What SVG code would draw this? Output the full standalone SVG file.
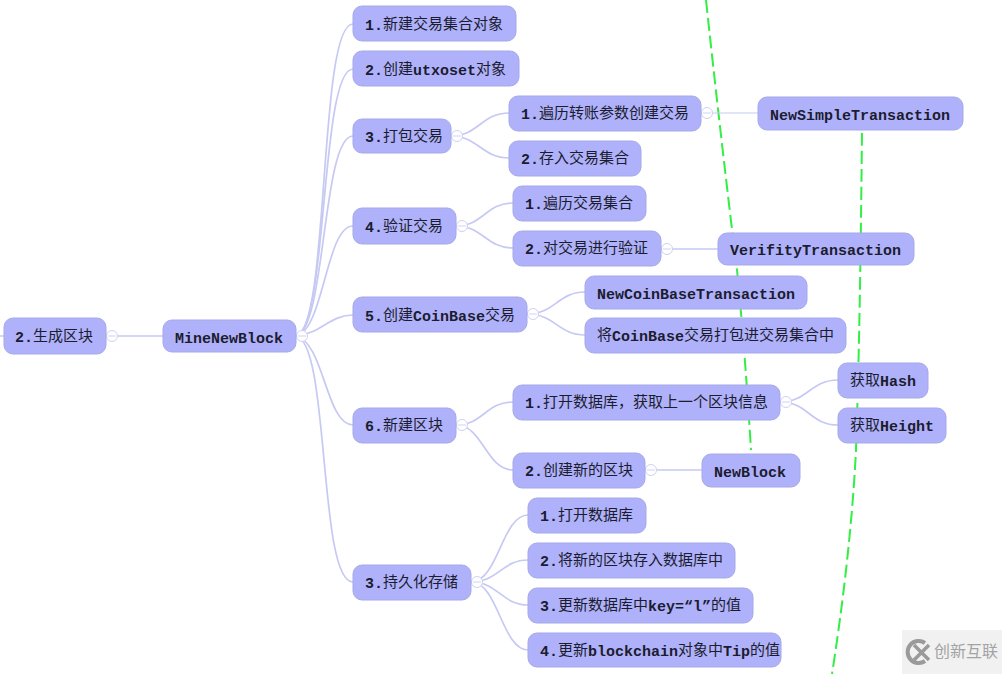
<svg xmlns="http://www.w3.org/2000/svg" width="1002" height="674" viewBox="0 0 1002 674">
<style>
.n rect{fill:#afb2fa;stroke:#a6a9e8;stroke-width:1}
.n text{font-family:"Liberation Mono","Noto Sans CJK SC",monospace;font-size:15px;font-weight:400;fill:#1c1c30;dominant-baseline:central;transform:translateY(1.5px)}
.n tspan{font-weight:700}
#connectors path{fill:none;stroke:#c6c9f3;stroke-width:1.7}
#connectors circle{fill:#fff;stroke:#cfd1f3;stroke-width:1}
#connectors path.m{stroke:#cfd1f3;stroke-width:1}
.g{fill:none;stroke:#33ee44;stroke-width:2;stroke-dasharray:13 5}
</style>
<rect width="1002" height="674" fill="#fff"/>
<g id="dashes">
<path class="g" d="M706 0C714 75 727 190 737 270C743 330 748 400 751 450"/>
<path class="g" d="M862 133C861 220 860 330 856 450C852 530 842 610 832 674"/>
</g>
<g id="connectors">
<path d="M0 336H4M106 336H163"/>
<path d="M296 336C330 330 318 24 353 24"/>
<path d="M296 336C328 330 320 69 353 69"/>
<path d="M296 336C326 330 322 136 353 136"/>
<path d="M296 336C324 330 326 226 353 226"/>
<path d="M296 336C320 334 330 315 353 315"/>
<path d="M296 336C324 342 326 425 353 425"/>
<path d="M296 336C330 342 318 582 353 582"/>
<path d="M451 136C478 136 482 113 509 113"/>
<path d="M451 136C478 136 482 158 509 158"/>
<path d="M701 113H758" style="stroke-width:1.2"/>
<path d="M456 226C483 226 486 203 513 203"/>
<path d="M456 226C483 226 486 248 513 248"/>
<path d="M661 249H718"/>
<path d="M527 314C555 314 558 292 585 292"/>
<path d="M527 314C555 314 558 335 585 335"/>
<path d="M456 425C483 425 486 402 513 402"/>
<path d="M456 425C483 425 486 470 513 470"/>
<path d="M645 470H702"/>
<path d="M780 402C808 402 810 380 838 380"/>
<path d="M780 402C808 402 810 425 838 425"/>
<path d="M471 582C498 582 502 515 528 515"/>
<path d="M471 582C498 582 502 560 528 560"/>
<path d="M471 582C498 582 502 605 528 605"/>
<path d="M471 582C498 582 502 650 528 650"/>
<circle cx="112" cy="336" r="5.5"/>
<circle cx="302" cy="336" r="5.5"/>
<circle cx="457" cy="136" r="5.5"/>
<circle cx="707" cy="113" r="5.5"/>
<circle cx="462" cy="226" r="5.5"/>
<circle cx="667" cy="249" r="5.5"/>
<circle cx="533" cy="314" r="5.5"/>
<circle cx="462" cy="425" r="5.5"/>
<circle cx="786" cy="402" r="5.5"/>
<circle cx="651" cy="470" r="5.5"/>
<circle cx="477" cy="582" r="5.5"/>
<path class="m" d="M108 336h8M298 336h8M453 136h8M703 113h8M458 226h8M663 249h8M529 314h8M458 425h8M782 402h8M647 470h8M473 582h8"/>
</g>
<g id="n0" class="n"><rect x="4" y="318" width="102" height="36" rx="9"/><text x="15" y="336"><tspan>2.</tspan>生成区块</text></g>
<g id="n1" class="n"><rect x="163" y="320" width="133" height="32" rx="9"/><text x="175" y="337"><tspan>MineNewBlock</tspan></text></g>
<g id="n2" class="n"><rect x="353" y="6" width="163" height="35" rx="9"/><text x="365" y="24"><tspan>1.</tspan>新建交易集合对象</text></g>
<g id="n3" class="n"><rect x="353" y="51" width="166" height="35" rx="9"/><text x="365" y="69"><tspan>2.</tspan>创建<tspan>utxoset</tspan>对象</text></g>
<g id="n4" class="n"><rect x="353" y="119" width="98" height="34" rx="9"/><text x="365" y="136"><tspan>3.</tspan>打包交易</text></g>
<g id="n5" class="n"><rect x="353" y="208" width="103" height="36" rx="9"/><text x="365" y="226"><tspan>4.</tspan>验证交易</text></g>
<g id="n6" class="n"><rect x="353" y="297" width="174" height="35" rx="9"/><text x="365" y="315"><tspan>5.</tspan>创建<tspan>CoinBase</tspan>交易</text></g>
<g id="n7" class="n"><rect x="353" y="408" width="103" height="35" rx="9"/><text x="365" y="425"><tspan>6.</tspan>新建区块</text></g>
<g id="n8" class="n"><rect x="353" y="565" width="118" height="35" rx="9"/><text x="365" y="582"><tspan>3.</tspan>持久化存储</text></g>
<g id="n9" class="n"><rect x="509" y="96" width="192" height="35" rx="9"/><text x="521" y="113"><tspan>1.</tspan>遍历转账参数创建交易</text></g>
<g id="n10" class="n"><rect x="509" y="141" width="132" height="35" rx="9"/><text x="521" y="158"><tspan>2.</tspan>存入交易集合</text></g>
<g id="n11" class="n"><rect x="758" y="97" width="205" height="33" rx="9"/><text x="770" y="114"><tspan>NewSimpleTransaction</tspan></text></g>
<g id="n12" class="n"><rect x="513" y="186" width="133" height="35" rx="9"/><text x="525" y="203"><tspan>1.</tspan>遍历交易集合</text></g>
<g id="n13" class="n"><rect x="513" y="231" width="148" height="35" rx="9"/><text x="525" y="248"><tspan>2.</tspan>对交易进行验证</text></g>
<g id="n14" class="n"><rect x="718" y="233" width="196" height="32" rx="9"/><text x="730" y="249"><tspan>VerifityTransaction</tspan></text></g>
<g id="n15" class="n"><rect x="585" y="276" width="222" height="33" rx="9"/><text x="597" y="293"><tspan>NewCoinBaseTransaction</tspan></text></g>
<g id="n16" class="n"><rect x="585" y="318" width="261" height="35" rx="9"/><text x="597" y="335">将<tspan>CoinBase</tspan>交易打包进交易集合中</text></g>
<g id="n17" class="n"><rect x="513" y="385" width="267" height="35" rx="9"/><text x="525" y="402"><tspan>1.</tspan>打开数据库，获取上一个区块信息</text></g>
<g id="n18" class="n"><rect x="513" y="453" width="132" height="35" rx="9"/><text x="525" y="470"><tspan>2.</tspan>创建新的区块</text></g>
<g id="n19" class="n"><rect x="702" y="454" width="98" height="33" rx="9"/><text x="714" y="471"><tspan>NewBlock</tspan></text></g>
<g id="n20" class="n"><rect x="838" y="363" width="90" height="35" rx="9"/><text x="850" y="380">获取<tspan>Hash</tspan></text></g>
<g id="n21" class="n"><rect x="838" y="408" width="108" height="35" rx="9"/><text x="850" y="425">获取<tspan>Height</tspan></text></g>
<g id="n22" class="n"><rect x="528" y="498" width="118" height="35" rx="9"/><text x="540" y="515"><tspan>1.</tspan>打开数据库</text></g>
<g id="n23" class="n"><rect x="528" y="543" width="207" height="35" rx="9"/><text x="540" y="560"><tspan>2.</tspan>将新的区块存入数据库中</text></g>
<g id="n24" class="n"><rect x="528" y="588" width="225" height="35" rx="9"/><text x="540" y="605"><tspan>3.</tspan>更新数据库中<tspan>key=“l”</tspan>的值</text></g>
<g id="n25" class="n"><rect x="528" y="633" width="253" height="34" rx="9"/><text x="540" y="650"><tspan>4.</tspan>更新<tspan>blockchain</tspan>对象中<tspan>Tip</tspan>的值</text></g>
<g id="watermark">
<rect x="902" y="630" width="100" height="44" fill="#f1f1f1"/>
<path d="M925 643A11 11 0 1 0 925 661" fill="none" stroke="#9a9a9a" stroke-width="4"/>
<path d="M914 645L929 660M929 645L914 660" fill="none" stroke="#9a9a9a" stroke-width="3.5"/>
<text x="934" y="650" font-family="'Noto Sans CJK SC',sans-serif" font-size="16" fill="#a3a3a3" dominant-baseline="central">创新互联</text>
</g>
</svg>
